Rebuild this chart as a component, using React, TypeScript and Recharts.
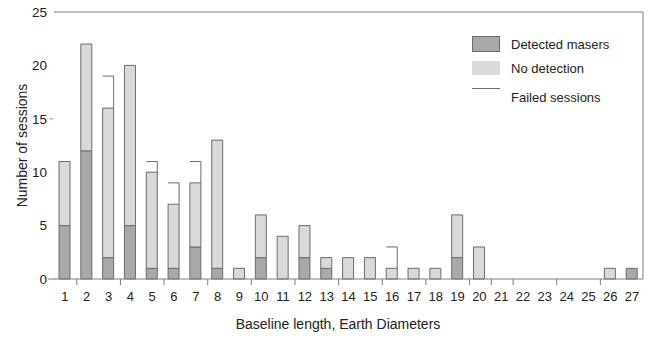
import React from 'react';
import { BarChart, Bar, XAxis, YAxis, Legend, Label } from 'recharts';

const categories = ['1','2','3','4','5','6','7','8','9','10','11','12','13','14','15','16','17','18','19','20','21','22','23','24','25','26','27'];
const detected =    [5,12, 2, 5,1,1,3, 1,0,2,0,2,1,0,0,0,0,0,2,0,0,0,0,0,0,0,1];
const noDetection = [6,10,14,15,9,6,6,12,1,4,4,3,1,2,2,1,1,1,4,3,0,0,0,0,0,1,0];
const failed =      [0, 0, 3, 0,1,2,2, 0,0,0,0,0,0,0,0,2,0,0,0,0,0,0,0,0,0,0,0];
const yTicks = [0, 5, 10, 15, 20, 25];
const xTickMarksAfter = ['1','3','5','7','9','11','13','15','17','19','20','21','23','25'];

const data = categories.map((c, i) => ({
  cat: c,
  detected: detected[i],
  noDetection: noDetection[i],
  failed: failed[i],
}));

const FONT = '"Liberation Sans", Arial, sans-serif';
const AXIS = '#7f7f7f';
const DARK = '#a9a9a9';
const LIGHT = '#d9d9d9';
const EDGE = '#6b6b6b';

const FailedShape = (props: any) => {
  const { x, y, width, height } = props;
  if (!height || height <= 0) return null;
  return (
    <path d={`M${x},${y} L${x + width},${y} L${x + width},${y + height}`} fill="none" stroke={EDGE} strokeWidth={1} />
  );
};

const XTick = (props: any) => {
  const { x, y, payload } = props;
  const off = payload && payload.offset != null ? payload.offset : 10.9;
  const mark = xTickMarksAfter.includes(String(payload.value));
  return (
    <g>
      <text x={x} y={y} dy={22} textAnchor="middle" fontSize={13} fill="#222" fontFamily={FONT}>{payload.value}</text>
      {mark && <line x1={x + off + 1} x2={x + off + 1} y1={y} y2={y + 6} stroke={AXIS} strokeWidth={1} />}
    </g>
  );
};

const YTick = (props: any) => {
  const { x, y, payload } = props;
  return (
    <g>
      <text x={x} y={y} dy={4.8} textAnchor="end" fontSize={13.5} fill="#222" fontFamily={FONT}>{payload.value}</text>
      {payload.value === 0 && <line x1={x + 1} x2={x + 8} y1={y} y2={y} stroke={AXIS} strokeWidth={1} />}
      {payload.value === 15 && <line x1={x + 3} x2={x + 6} y1={y} y2={y} stroke={AXIS} strokeWidth={1} />}
    </g>
  );
};

const LegendContent = () => (
  <svg width={180} height={80} style={{ display: 'block' }}>
    <rect x={0.5} y={0.5} width={27} height={15} fill={DARK} stroke={EDGE} strokeWidth={1} />
    <text x={39} y={13} fontSize={13} fill="#222" fontFamily={FONT}>Detected masers</text>
    <rect x={0} y={25} width={28} height={14} fill={LIGHT} />
    <text x={39} y={37} fontSize={13} fill="#222" fontFamily={FONT}>No detection</text>
    <line x1={0} x2={28} y1={52.5} y2={52.5} stroke={EDGE} strokeWidth={1} />
    <text x={39} y={66} fontSize={13} fill="#222" fontFamily={FONT}>Failed sessions</text>
  </svg>
);

export default function App() {
  return (
    <div style={{ position: 'absolute', left: 0, top: 0, width: 654, height: 337, background: '#fff' }}>
      <BarChart
        width={654}
        height={337}
        data={data}
        margin={{ top: 11, right: 10, left: 0, bottom: 0 }}
        barSize={11}
        style={{ fontFamily: FONT }}
      >
        <XAxis
          dataKey="cat"
          height={58}
          axisLine={{ stroke: AXIS }}
          tickLine={false}
          tickSize={0}
          tickMargin={0}
          interval={0}
          tick={<XTick />}
        >
          <Label
            content={() => (
              <text x={338} y={329} textAnchor="middle" fontSize={14} fill="#222" fontFamily={FONT}>
                Baseline length, Earth Diameters
              </text>
            )}
          />
        </XAxis>
        <XAxis xAxisId="top" dataKey="cat" orientation="top" height={1} tick={false} tickLine={false} axisLine={{ stroke: AXIS }} />
        <YAxis
          width={54}
          domain={[0, 25]}
          ticks={yTicks}
          axisLine={false}
          tickLine={false}
          tickSize={0}
          tickMargin={7}
          tick={<YTick />}
        >
          <Label
            content={(p: any) => {
              const vb = p.viewBox;
              const cy = vb.y + vb.height / 2;
              return (
                <text x={27} y={cy} transform={`rotate(-90, 27, ${cy})`} textAnchor="middle" fontSize={14} fill="#222" fontFamily={FONT}>
                  Number of sessions
                </text>
              );
            }}
          />
        </YAxis>
        <YAxis yAxisId="right" orientation="right" width={1} domain={[0, 25]} tick={false} tickLine={false} axisLine={{ stroke: AXIS }} />
        <Legend
          verticalAlign="middle"
          align="center"
          content={<LegendContent />}
          wrapperStyle={{ position: 'absolute', left: 472, top: 36, width: 180, height: 80 }}
        />
        <Bar dataKey="detected" stackId="s" fill={DARK} stroke={EDGE} strokeWidth={1} isAnimationActive={false} />
        <Bar dataKey="noDetection" stackId="s" fill={LIGHT} stroke={EDGE} strokeWidth={1} isAnimationActive={false} />
        <Bar dataKey="failed" stackId="s" fill="none" shape={<FailedShape />} isAnimationActive={false} />
      </BarChart>
    </div>
  );
}
